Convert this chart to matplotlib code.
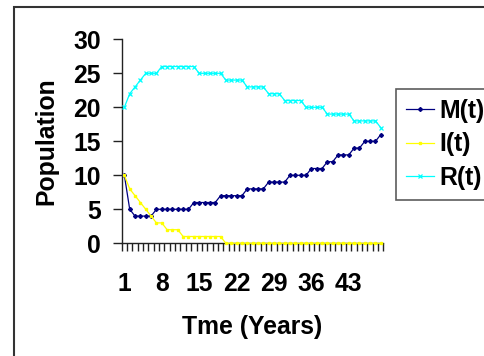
import matplotlib
matplotlib.use("Agg")
import matplotlib.pyplot as plt
from matplotlib.patches import Rectangle
import numpy as np

years = list(range(1, 50))
M = [10, 5, 4, 4, 4, 4, 5, 5, 5, 5, 5, 5, 5, 6, 6, 6, 6, 6, 7, 7, 7, 7, 7,
     8, 8, 8, 8, 9, 9, 9, 9, 10, 10, 10, 10, 11, 11, 11, 12, 12, 13, 13, 13,
     14, 14, 15, 15, 15, 16]
I = [10, 8, 7, 6, 5, 4, 3, 3, 2, 2, 2, 1, 1, 1, 1, 1, 1, 1, 1] + [0] * 30
R = [20, 22, 23, 24, 25, 25, 25, 26, 26, 26, 26, 26, 26, 26, 25, 25, 25, 25, 25,
     24, 24, 24, 24, 23, 23, 23, 23, 22, 22, 22, 21, 21, 21, 21, 20, 20, 20, 20,
     19, 19, 19, 19, 19, 18, 18, 18, 18, 18, 17]
series_names = ["M(t)", "I(t)", "R(t)"]
x_tick_labels = [1, 8, 15, 22, 29, 36, 43]
y_ticks = [0, 5, 10, 15, 20, 25, 30]

plt.rcParams['font.family'] = ['Liberation Sans', 'DejaVu Sans']
plt.rcParams['font.weight'] = 'bold'
FS = 17.8

W, H = 484, 356
fig = plt.figure(figsize=(W / 100, H / 100), dpi=100)
fig.patch.set_facecolor('white')

# chart-area border (cut off at right/bottom)
fig.patches.append(Rectangle((14 / W, -0.2), 2.0, 1 - 7 / H + 0.2,
                             transform=fig.transFigure, fill=False,
                             edgecolor='#333333', linewidth=1.5))

ax_l, ax_r = 121.7, 383.5
ax_t, ax_b = 39.3, 243.3
ax = fig.add_axes([ax_l / W, 1 - ax_b / H, (ax_r - ax_l) / W, (ax_b - ax_t) / H])
ax.set_facecolor('none')

common = dict(lw=0.9, zorder=4, clip_on=False)
l1, = ax.plot(years, M, color='#000080', marker='D', ms=2.0,
              label=series_names[0], **common)
l2, = ax.plot(years, I, color='#FFFF00', marker='s', ms=2.0,
              label=series_names[1], **common)
l3, = ax.plot(years, R, color='#00FFFF', marker='x', ms=2.6, mew=0.9,
              label=series_names[2], **common)

ax.set_xlim(0.5, 49.5)
ax.set_ylim(0, 30)
for s in ['top', 'right']:
    ax.spines[s].set_visible(False)
for s in ['left', 'bottom']:
    ax.spines[s].set_color('#222222')
    ax.spines[s].set_linewidth(1.0)
    ax.spines[s].set_zorder(2)

ax.set_yticks(y_ticks)
ax.set_yticklabels([str(v) for v in y_ticks], fontsize=FS, fontweight='bold')
ax.tick_params(axis='y', direction='out', length=6.5, width=1.0,
               color='#222222', pad=8.5)

ax.set_xticks(x_tick_labels)
ax.set_xticklabels([str(v) for v in x_tick_labels], fontsize=FS, fontweight='bold')
ax.set_xticks(np.arange(0.5, 50.0, 1.0), minor=True)
ax.tick_params(axis='x', which='major', length=0, pad=20.5)
ax.tick_params(axis='x', which='minor', direction='out', length=5.8,
               width=1.0, color='#222222')

fig.text(46.7 / W, 1 - 140.7 / H, "Population", rotation=90, ha='center',
         va='center', fontsize=FS, fontweight='bold')
fig.text(252 / W, 1 - 327 / H, "Tme (Years)", ha='center', va='center',
         fontsize=FS, fontweight='bold')

leg = fig.legend(handles=[l1, l2, l3], loc='upper left',
                 bbox_to_anchor=(396 / W, 1 - 89 / H),
                 bbox_transform=fig.transFigure,
                 prop={'weight': 'bold', 'size': FS},
                 frameon=True, fancybox=False, borderpad=0.4,
                 handlelength=1.15, handletextpad=0.2, labelspacing=0.38,
                 borderaxespad=0, numpoints=1)
leg.get_frame().set_edgecolor('#333333')
leg.get_frame().set_linewidth(1.2)

fig.savefig('out.png', dpi=100)
